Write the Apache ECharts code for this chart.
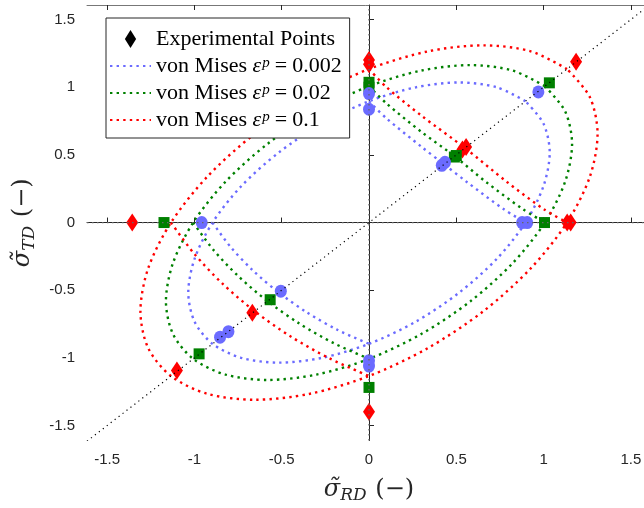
<!DOCTYPE html>
<html><head><meta charset="utf-8">
<script src="https://cdn.jsdelivr.net/npm/echarts@6/dist/echarts.min.js"></script>
<style>html,body{margin:0;padding:0;background:#fff}#c{width:644px;height:508px}</style>
</head><body><div id="c"></div>
<script>
// ---- data ----
const tickValues = [-1.5, -1, -0.5, 0, 0.5, 1, 1.5];
const xRange = [-1.615, 1.615];
const yRange = [-1.61, 1.607];
const strainLevels = ['0.002', '0.02', '0.1'];

const redEllipse = [[1.134,1.134],[0.926,1.265],[0.655,1.309],[0.339,1.265],[0,1.134],[-0.339,0.926],[-0.655,0.655],[-0.926,0.339],[-1.134,0],[-1.265,-0.339],[-1.309,-0.655],[-1.265,-0.926],[-1.134,-1.134],[-0.926,-1.265],[-0.655,-1.309],[-0.339,-1.265],[0,-1.134],[0.339,-0.926],[0.655,-0.655],[0.926,-0.339],[1.134,0],[1.265,0.339],[1.309,0.655],[1.265,0.926],[1.134,1.134]];
const redInnerQ1 = [[0,1.134],[0.1,1.0],[0.3,0.79],[0.55,0.55],[0.79,0.3],[1.0,0.1],[1.134,0]];
const redInnerQ3 = [[-1.134,0],[-1.003,-0.227],[-0.842,-0.448],[-0.655,-0.655],[-0.448,-0.842],[-0.227,-1.003],[0,-1.134]];

const greenEllipse = [[1.007,1.007],[0.822,1.123],[0.581,1.163],[0.301,1.123],[0,1.007],[-0.301,0.822],[-0.581,0.581],[-0.822,0.301],[-1.007,0],[-1.123,-0.301],[-1.163,-0.581],[-1.123,-0.822],[-1.007,-1.007],[-0.822,-1.123],[-0.581,-1.163],[-0.301,-1.123],[0,-1.007],[0.301,-0.822],[0.581,-0.581],[0.822,-0.301],[1.007,0],[1.123,0.301],[1.163,0.581],[1.123,0.822],[1.007,1.007]];
const greenInnerQ1 = [[0,1.007],[0.1,0.88],[0.3,0.67],[0.49,0.49],[0.67,0.3],[0.88,0.1],[1.007,0]];
const greenInnerQ3 = [[-1.007,0],[-0.891,-0.202],[-0.747,-0.398],[-0.581,-0.581],[-0.398,-0.747],[-0.202,-0.891],[0,-1.007]];

const blueEllipse = [[0.896,0.896],[0.732,0.999],[0.517,1.035],[0.268,0.999],[0,0.896],[-0.268,0.732],[-0.517,0.517],[-0.732,0.268],[-0.896,0],[-0.999,-0.268],[-1.035,-0.517],[-0.999,-0.732],[-0.896,-0.896],[-0.732,-0.999],[-0.517,-1.035],[-0.268,-0.999],[0,-0.896],[0.268,-0.732],[0.517,-0.517],[0.732,-0.268],[0.896,0],[0.999,0.268],[1.035,0.517],[0.999,0.732],[0.896,0.896]];
const blueInnerQ1 = [[0,0.896],[0.1,0.77],[0.3,0.56],[0.43,0.43],[0.56,0.3],[0.77,0.1],[0.896,0]];
const blueInnerQ3 = [[-0.896,0],[-0.793,-0.18],[-0.665,-0.354],[-0.517,-0.517],[-0.354,-0.665],[-0.18,-0.793],[0,-0.896]];

const expRed = [[0,1.2],[0,1.17],[1.186,1.187],[0.556,0.558],[0.535,0.54],[1.135,0],[1.155,0],[-1.356,0],[-0.668,-0.666],[-1.1,-1.093],[0,-1.397]];
const expGreen = [[0,1.036],[0,1.0],[1.033,1.032],[0.489,0.484],[0.5,0.495],[1.005,0],[-1.174,0],[-0.566,-0.57],[-0.973,-0.97],[0,-1.218]];
const expBlue = [[0,0.953],[0,0.837],[0.97,0.965],[0.417,0.423],[0.435,0.445],[0.877,0],[0.906,0],[-0.958,0],[-0.505,-0.507],[-0.853,-0.847],[-0.805,-0.806],[0,-1.06],[0,-1.02]];

const refVertical = [[0, -1.61], [0, 1.607]];
const refHorizontal = [[-1.615, 0], [1.615, 0]];
const refDiagonal = [[-1.615, -1.615], [1.615, 1.615]];

// ---- chart ----
const RED = '#ff0000', GREEN = '#008000', BLUE = '#6b6bff';
const dot = [2.4, 4.2];
const curveNames = strainLevels.map(s => 'vm' + s);
function curve(name, data, color) {
  return { name, type: 'line', data, smooth: 0.3, symbol: 'none', z: 2,
    lineStyle: { color, width: 2.4, type: dot, cap: 'butt' }, itemStyle: { color } };
}
function pts(name, data, color, symbol, size) {
  return { name, type: 'scatter', data, symbol, symbolSize: size, z: 3,
    itemStyle: { color, opacity: 1 } };
}
function ref(data, color, dash, w) {
  return { type: 'line', data, symbol: 'none', z: 4, silent: true,
    lineStyle: { color, width: w, type: dash } };
}
const axText = { fontFamily: 'Liberation Sans, Arial, sans-serif', fontSize: 15, color: '#262626' };
const serif = 'DejaVu Serif, serif';
const lserif = 'Liberation Serif, serif';
const nameRich = {
  s: { fontFamily: serif, fontStyle: 'italic', fontSize: 24, color: '#262626' },
  sub: { fontFamily: serif, fontStyle: 'italic', fontSize: 17, color: '#262626', padding: [13, 1, 0, 0] },
  n: { fontFamily: serif, fontSize: 24, color: '#262626' } };
const chart = echarts.init(document.getElementById('c'), null, { renderer: 'canvas' });
chart.setOption({
  animation: false,
  backgroundColor: '#fff',
  grid: { left: 87, top: 5, width: 564, height: 435.5, outerBoundsMode: 'none', containLabel: false },
  xAxis: [{
    type: 'value', min: xRange[0], max: xRange[1], position: 'bottom',
    axisLine: { lineStyle: { color: '#262626', width: 1 } },
    axisTick: { inside: true, length: 5, customValues: tickValues, lineStyle: { color: '#262626' } },
    axisLabel: { customValues: tickValues, margin: 12, ...axText, formatter: v => String(v) },
    splitLine: { show: false },
    name: '{s|σ\u0303}{sub|RD}{n| (\u2212)}', nameLocation: 'middle', nameGap: 34,
    nameTextStyle: { rich: nameRich }
  }, {
    type: 'value', min: xRange[0], max: xRange[1], position: 'top',
    axisLine: { lineStyle: { color: '#777', width: 1 } },
    axisTick: { inside: true, length: 5, customValues: tickValues, lineStyle: { color: '#262626' } },
    axisLabel: { show: false }, splitLine: { show: false }
  }],
  yAxis: {
    type: 'value', min: yRange[0], max: yRange[1],
    axisLine: { show: true, lineStyle: { color: '#262626', width: 1 } },
    axisTick: { show: true, inside: true, length: 5, customValues: tickValues, lineStyle: { color: '#262626' } },
    axisLabel: { customValues: tickValues, margin: 12, ...axText, formatter: v => String(v) },
    splitLine: { show: false },
    name: '{s|σ\u0303}{sub|TD}{n| (\u2212)}', nameLocation: 'middle', nameGap: 39, nameRotate: 90,
    nameTextStyle: { rich: nameRich }
  },
  legend: {
    orient: 'vertical', left: 106, top: 18, backgroundColor: '#fff',
    borderColor: '#262626', borderWidth: 1, borderRadius: 0,
    padding: [10, 8, 7, 3], itemGap: 5, itemWidth: 41, itemHeight: 18, itemTextGap: 4,
    itemStyle: { opacity: 0 },
    textStyle: { fontFamily: lserif, fontSize: 22, lineHeight: 20, color: '#000',
      rich: {
        e: { fontFamily: lserif, fontStyle: 'italic', fontSize: 22, lineHeight: 20, color: '#000' },
        p: { fontFamily: lserif, fontStyle: 'italic', fontSize: 15, lineHeight: 11, verticalAlign: 'top', color: '#000', padding: [0, 1, 0, 1] },
        q: { fontFamily: lserif, fontSize: 22, lineHeight: 20, color: '#000', padding: [0, 5, 0, 4] }
      } },
    data: [{ name: 'Experimental Points', icon: 'path://M5,0L10,8L5,16L0,8Z', itemStyle: { color: '#000', opacity: 1 } }].concat(curveNames),
    formatter: name => name === 'Experimental Points' ? name :
      'von Mises {e|ε}{p|p}{q|=}' + name.slice(2)
  },
  series: [
    { name: 'Experimental Points', type: 'scatter', data: [], symbol: 'diamond', symbolKeepAspect: true, itemStyle: { color: '#000' } },
    curve(curveNames[0], blueEllipse, BLUE),
    curve(curveNames[0], blueInnerQ1, BLUE),
    curve(curveNames[0], blueInnerQ3, BLUE),
    curve(curveNames[1], greenEllipse, GREEN),
    curve(curveNames[1], greenInnerQ1, GREEN),
    curve(curveNames[1], greenInnerQ3, GREEN),
    curve(curveNames[2], redEllipse, RED),
    curve(curveNames[2], redInnerQ1, RED),
    curve(curveNames[2], redInnerQ3, RED),
    pts('expRed', expRed, RED, 'diamond', [12, 18]),
    pts('expGreen', expGreen, GREEN, 'rect', [11, 11]),
    pts('expBlue', expBlue, BLUE, 'circle', [12, 13]),
    ref(refVertical, '#666', [1.5, 3.5], 1.3),
    ref(refHorizontal, '#666', [1.5, 3.5], 1.3),
    ref(refDiagonal, '#000', [1.2, 3.8], 1.2)
  ]
});
</script></body></html>
